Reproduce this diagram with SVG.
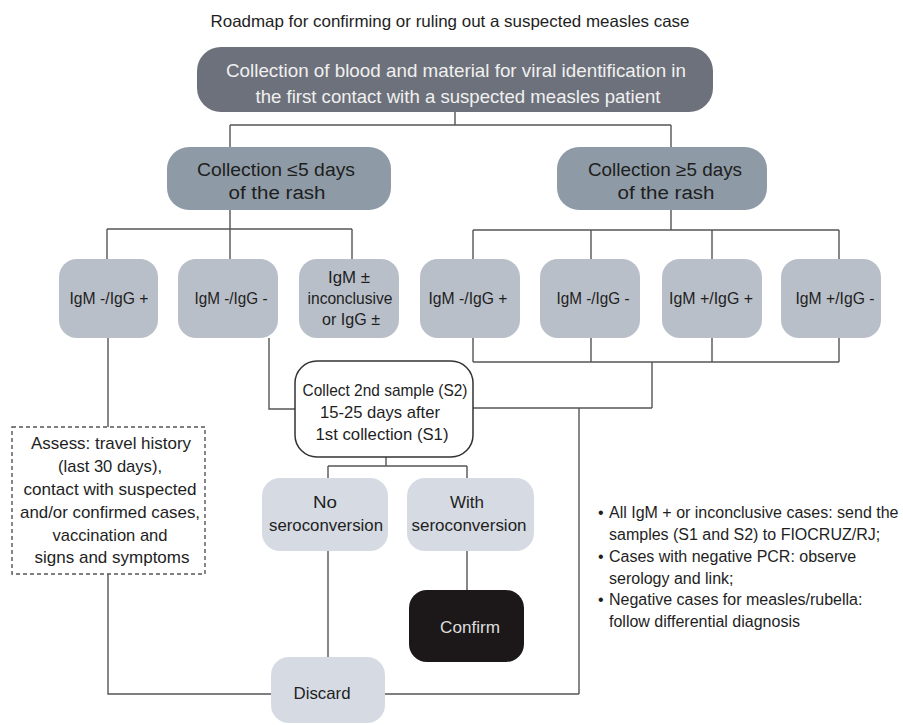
<svg xmlns="http://www.w3.org/2000/svg" width="903" height="725" viewBox="0 0 903 725">
<style>
text{font-family:"Liberation Sans",Arial,sans-serif;text-anchor:middle;fill:#1e1e1e;font-size:17px}
.top rect{fill:#6d717b}
.top text{fill:#f0f0f0;font-size:19px}
.mid rect{fill:#8e9ba6}
.mid text{font-size:18px}
.igm rect{fill:#b9bfc8}
.igm text{font-size:16.5px}
.lt rect{fill:#d6dbe3}
.conn{fill:none;stroke:#555;stroke-width:1.4}
.note text{text-anchor:start;font-size:16px}
</style>
<rect width="903" height="725" fill="#fff"/>
<text id="title" x="450" y="27" textLength="479" lengthAdjust="spacingAndGlyphs" style="font-size:16.5px">Roadmap for confirming or ruling out a suspected measles case</text>
<g id="connectors" class="conn">
<path d="M455 112V125M230 125H671M230 125V147M671 125V147"/>
<path d="M230 210V229M107 229H352M107 229V259M230 229V259M352 229V259"/>
<path d="M671 210V230M473 230H839M473 230V259M591 230V259M712 230V259M839 230V259"/>
<path d="M473 338V362M591 338V362M712 338V362M839 338V362M473 362H839M652 362V408M473 408H652M579 408V694M385 694H579"/>
<path d="M108 338V427M108 574V694H271"/>
<path d="M269 338V409H295"/>
<path d="M386 457V466M328 466H467M328 466V478M467 466V478M328 551V657M467 551V590"/>
</g>
<g id="n-top" class="top">
<rect x="197" y="47" width="516" height="65" rx="24"/>
<text x="456" y="77" textLength="460" lengthAdjust="spacingAndGlyphs">Collection of blood and material for viral identification in</text>
<text x="458" y="103" textLength="405" lengthAdjust="spacingAndGlyphs">the first contact with a suspected measles patient</text>
</g>
<g id="n-le5" class="mid">
<rect x="167" y="147" width="224" height="63" rx="22"/>
<text x="276" y="176" textLength="158" lengthAdjust="spacingAndGlyphs">Collection ≤5 days</text>
<text x="277" y="199" textLength="97" lengthAdjust="spacingAndGlyphs">of the rash</text>
</g>
<g id="n-ge5" class="mid">
<rect x="557" y="147" width="210" height="63" rx="22"/>
<text x="665" y="176" textLength="154" lengthAdjust="spacingAndGlyphs">Collection ≥5 days</text>
<text x="666" y="199" textLength="97" lengthAdjust="spacingAndGlyphs">of the rash</text>
</g>
<g id="n-a1" class="igm"><rect x="59" y="259" width="99" height="79" rx="18"/><text x="109" y="304" textLength="79" lengthAdjust="spacingAndGlyphs">IgM -/IgG +</text></g>
<g id="n-a2" class="igm"><rect x="178" y="259" width="100" height="79" rx="18"/><text x="231" y="304" textLength="73" lengthAdjust="spacingAndGlyphs">IgM -/IgG -</text></g>
<g id="n-a3" class="igm"><rect x="299" y="259" width="100" height="79" rx="18"/>
<text x="349" y="283" textLength="42" lengthAdjust="spacingAndGlyphs">IgM ±</text><text x="350" y="304" textLength="85" lengthAdjust="spacingAndGlyphs">inconclusive</text><text x="351" y="325" textLength="58" lengthAdjust="spacingAndGlyphs">or IgG ±</text></g>
<g id="n-b1" class="igm"><rect x="420" y="259" width="100" height="79" rx="18"/><text x="468" y="304" textLength="79" lengthAdjust="spacingAndGlyphs">IgM -/IgG +</text></g>
<g id="n-b2" class="igm"><rect x="540" y="259" width="100" height="79" rx="18"/><text x="593" y="304" textLength="73" lengthAdjust="spacingAndGlyphs">IgM -/IgG -</text></g>
<g id="n-b3" class="igm"><rect x="662" y="259" width="100" height="79" rx="18"/><text x="711" y="304" textLength="84" lengthAdjust="spacingAndGlyphs">IgM +/IgG +</text></g>
<g id="n-b4" class="igm"><rect x="781" y="259" width="100" height="79" rx="18"/><text x="835" y="304" textLength="79" lengthAdjust="spacingAndGlyphs">IgM +/IgG -</text></g>
<g id="n-collect">
<rect x="295" y="361" width="178" height="96" rx="22" fill="#fff" stroke="#333" stroke-width="1.5"/>
<text x="385" y="396" textLength="165" lengthAdjust="spacingAndGlyphs">Collect 2nd sample (S2)</text>
<text x="380" y="418" textLength="120" lengthAdjust="spacingAndGlyphs">15-25 days after</text>
<text x="382" y="440" textLength="133" lengthAdjust="spacingAndGlyphs">1st collection (S1)</text>
</g>
<g id="n-assess">
<rect x="12" y="427" width="193" height="147" fill="#fff" stroke="#555" stroke-width="1.4" stroke-dasharray="4 3"/>
<text x="111" y="449" textLength="160" lengthAdjust="spacingAndGlyphs">Assess: travel history</text>
<text x="110" y="472" textLength="104" lengthAdjust="spacingAndGlyphs">(last 30 days),</text>
<text x="110" y="495" textLength="173" lengthAdjust="spacingAndGlyphs">contact with suspected</text>
<text x="110" y="518" textLength="180" lengthAdjust="spacingAndGlyphs">and/or confirmed cases,</text>
<text x="110" y="541" textLength="115" lengthAdjust="spacingAndGlyphs">vaccination and</text>
<text x="112" y="563" textLength="155" lengthAdjust="spacingAndGlyphs">signs and symptoms</text>
</g>
<g id="n-no" class="lt"><rect x="262" y="478" width="126" height="73" rx="18"/>
<text x="325" y="508" textLength="24" lengthAdjust="spacingAndGlyphs">No</text><text x="326" y="531" textLength="114" lengthAdjust="spacingAndGlyphs">seroconversion</text></g>
<g id="n-with" class="lt"><rect x="407" y="478" width="127" height="73" rx="18"/>
<text x="467" y="508" textLength="34" lengthAdjust="spacingAndGlyphs">With</text><text x="469" y="531" textLength="115" lengthAdjust="spacingAndGlyphs">seroconversion</text></g>
<g id="n-confirm"><rect x="409" y="590" width="115" height="72" rx="18" fill="#1c1819"/>
<text x="470" y="633" textLength="60" lengthAdjust="spacingAndGlyphs" style="fill:#dedede">Confirm</text></g>
<g id="n-discard" class="lt"><rect x="271" y="657" width="114" height="66" rx="18"/>
<text x="322" y="699" textLength="57" lengthAdjust="spacingAndGlyphs">Discard</text></g>
<g id="notes" class="note">
<text x="598" y="518">•</text>
<text x="609" y="518">All IgM + or inconclusive cases: send the</text>
<text x="609" y="540">samples (S1 and S2) to FIOCRUZ/RJ;</text>
<text x="598" y="562">•</text>
<text x="609" y="562">Cases with negative PCR: observe</text>
<text x="609" y="584">serology and link;</text>
<text x="598" y="605">•</text>
<text x="609" y="605">Negative cases for measles/rubella:</text>
<text x="609" y="627">follow differential diagnosis</text>
</g>
</svg>
